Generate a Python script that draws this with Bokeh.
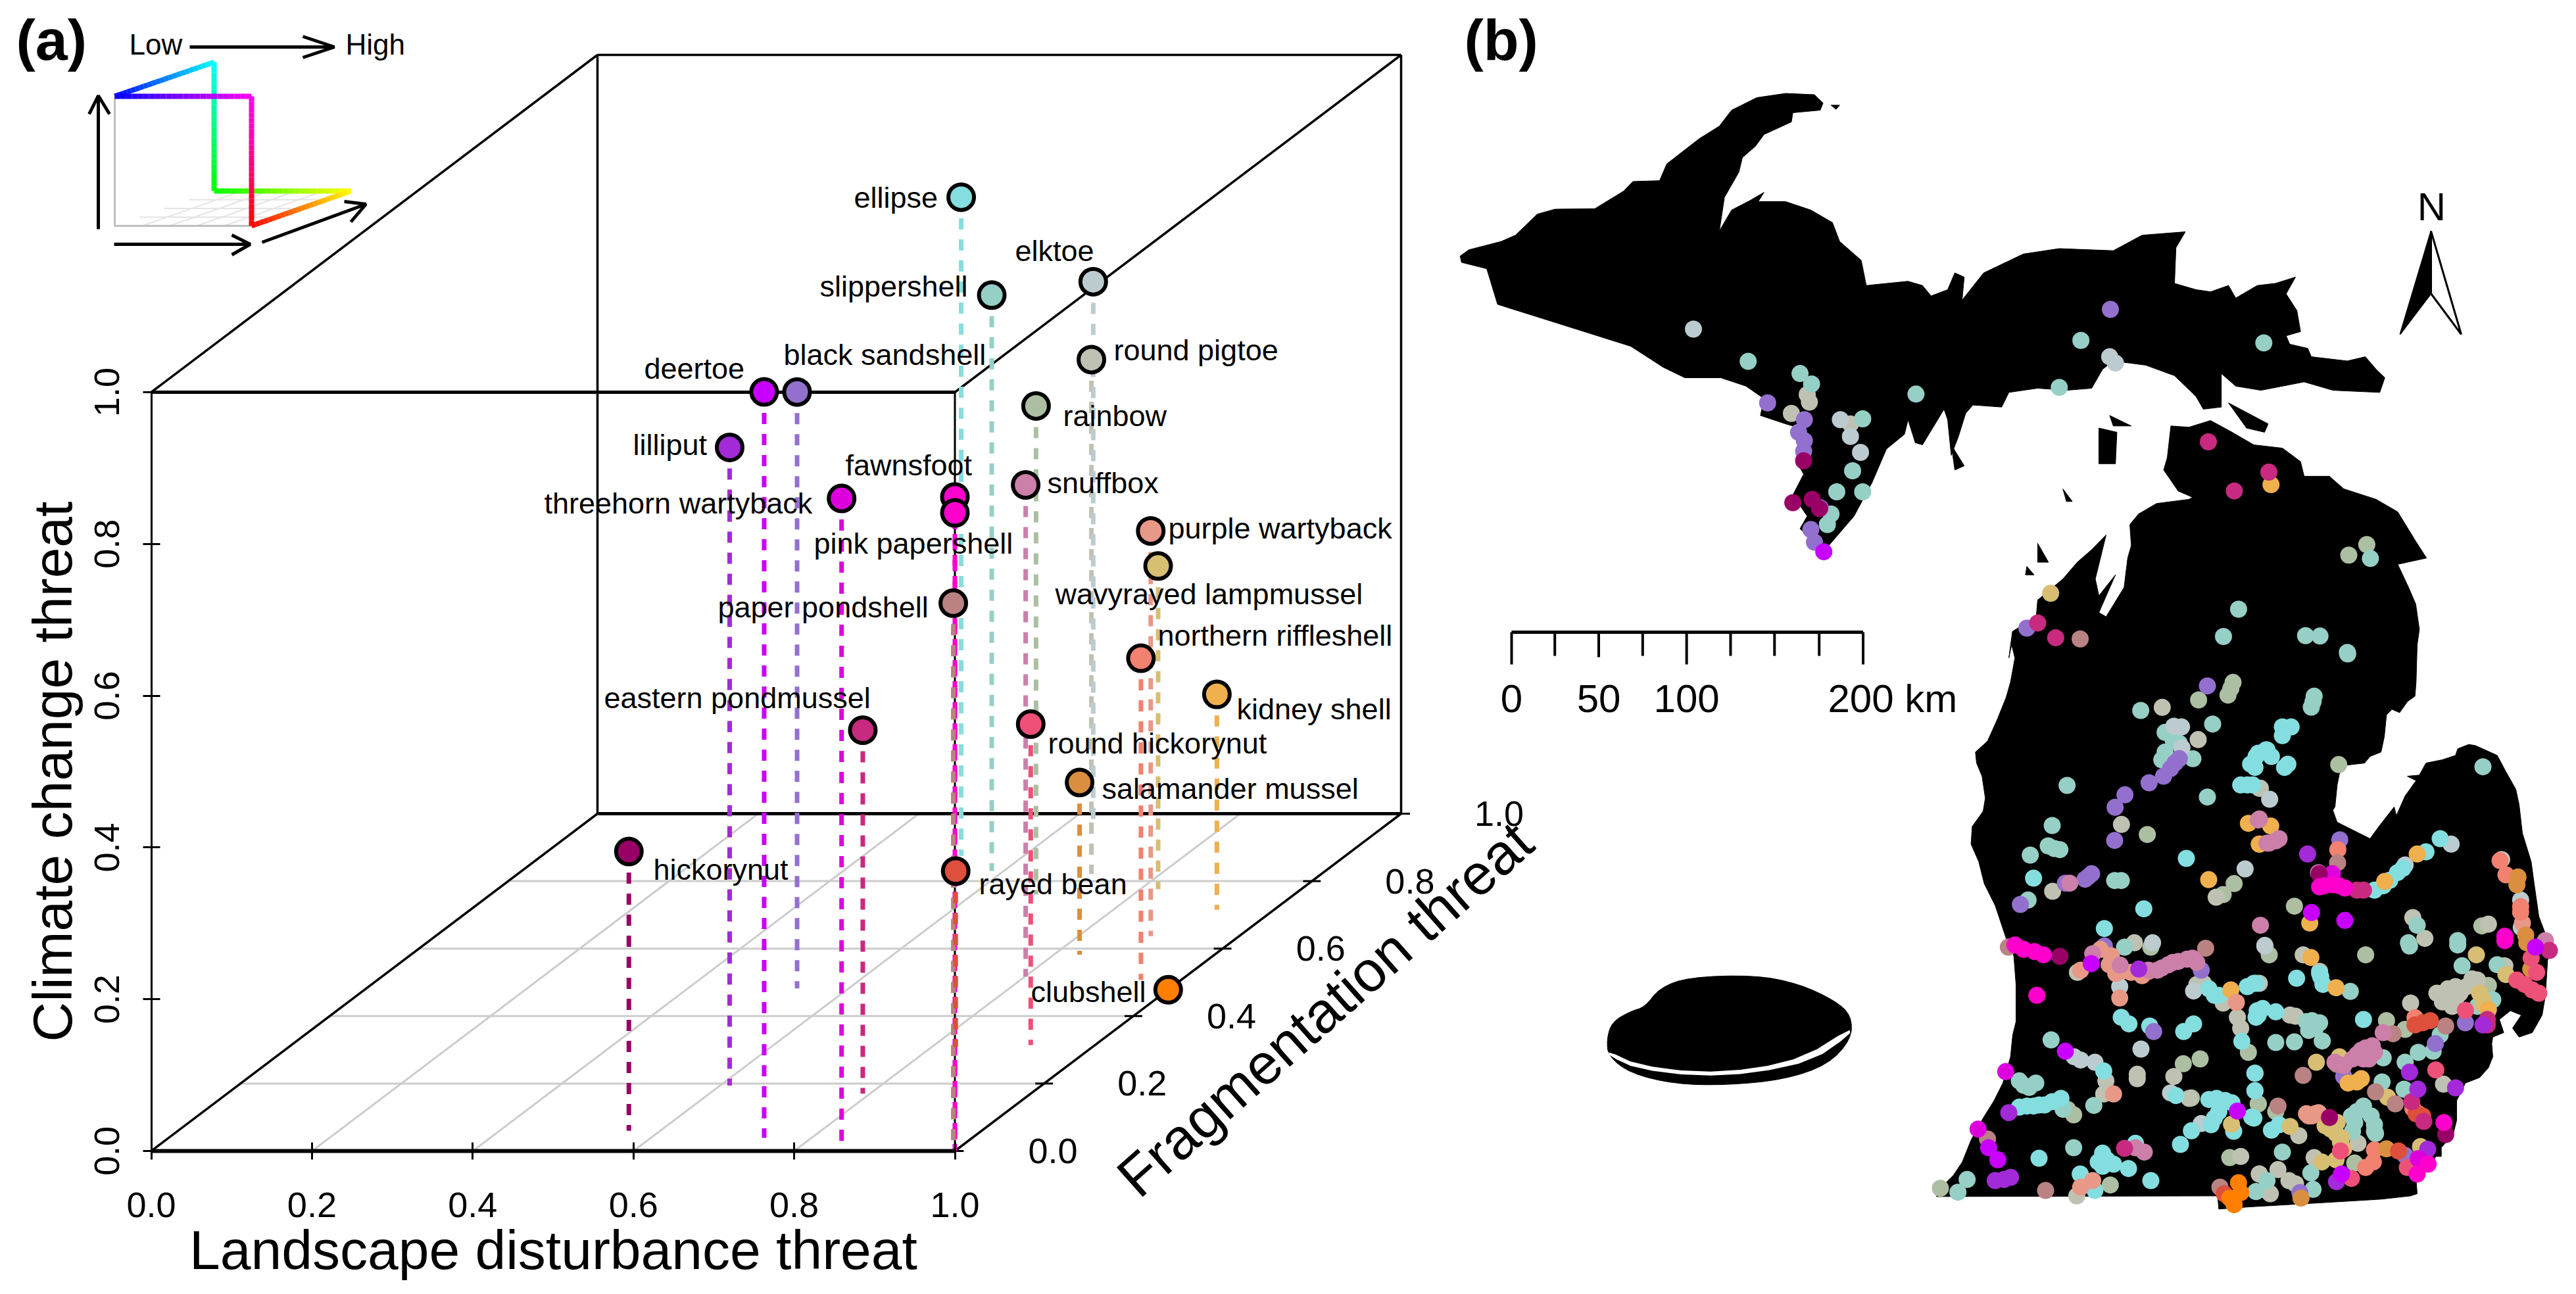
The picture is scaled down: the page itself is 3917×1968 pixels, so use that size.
from bokeh.plotting import figure
from bokeh.embed import file_html
from bokeh.resources import INLINE
from bokeh.core.properties import value
from bokeh.models import Range1d, FixedTicker, NumeralTickFormatter
import math

FONT = "Liberation Sans"

# ---------- panel (a): threat scores per species ----------
species = ["hickorynut","lilliput","deertoe","black sandshell","threehorn wartyback","eastern pondmussel",
           "fawnsfoot","pink papershell","paper pondshell","rayed bean","round hickorynut","snuffbox",
           "rainbow","round pigtoe","elktoe","slippershell","ellipse","northern riffleshell",
           "purple wartyback","wavyrayed lampmussel","kidney shell","salamander mussel","clubshell"]
landscape = [.561,.612,.741,.536,.859,.791,1.0,1.0,.998,.830,.920,.801,.679,.714,.628,.585,.522,.950,.890,.822,.929,.832,1.0]
fragment  = [.060,.194,.039,.482,.0,.170,.0,.0,.0,.308,.314,.517,.760,.821,.980,.830,.875,.507,.637,.776,.715,.582,.478]
climate   = [.368,.841,.983,.786,.860,.479,.862,.841,.722,.232,.423,.648,.644,.678,.710,.759,.868,.424,.534,.426,.284,.227,.0]
colors    = ["#990066","#A32AD8","#C800FF","#9370CE","#DD00DD","#C72A7F","#FF00CC","#FF00CC","#B98383","#DE4F3C",
             "#EE5178","#CC7FA9","#ADBFA2","#BFC2B2","#BCCBCF","#96CFC5","#84DEDF","#F28170","#E89887","#D7BE72",
             "#EFB04D","#D98F3F","#FF7F00"]
label_px_x = [993,962,979,1191,827,918,1285,1237,1091,1488,1593,1592,1616,1693,1543,1246,1298,1760,1776,1604,1880,1675,1567]
label_px_y = [1322,676,560,539,765,1061,707,826,923,1344,1130,734,632,532,381,435,300,966,803,903,1078,1199,1508]
ticks = [0.0,0.2,0.4,0.6,0.8,1.0]
tick_labels = ["0.0","0.2","0.4","0.6","0.8","1.0"]

# ---------- panel (b): occurrence dots, per crop of the map, per species ----------
dots_up = {
 "ek":[(342,784),(920,850),(928,865),(546,1000),(560,1040),(574,1078)],
 "sl":[(418,861),(490,890),(506,915),(651,939),(880,811),(850,923),(1134,817),(577,998),(563,1122),(541,1172),(577,1172),(533,1225),(528,1250),(1282,1331),(1099,1452),(1078,1517),(1192,1515),(1212,1516),(1250,1555)],
 "rp":[(500,940),(503,958),(478,985),(560,1010)],
 "rb":[(1277,1298),(1252,1323)],
 "bs":[(445,960),(496,1000),(488,1030),(496,1050),(495,1075),(921,737),(518,1210),(505,1262),(510,1292),(805,1497)],
 "hk":[(495,1098),(480,1198),(507,1190),(517,1212)],
 "dt":[(523,1315)],
 "ep":[(1057,1053),(1141,1125),(1093,1170),(820,1485),(845,1520)],
 "kd":[(1144,1155)],
 "wv":[(838,1414)],
 "pp":[(879,1523)],
}
dots_a = {
 "sl":[(914,300),(1242,362),(1025,400),(1060,430),(1090,450),(1025,490),(1010,525),(1152,520),(1218,695),(578,642),(510,825),(492,918),(520,930),(545,935),(410,960),(795,1076),(825,1076),(400,1165)],
 "rp":[(1012,286),(1176,433),(1028,515),(826,820),(512,1125),(1258,1152)],
 "rb":[(1178,252),(1335,172),(1312,230),(1325,200),(944,866),(1290,1140),(1340,1090),(1460,655)],
 "bs":[(1218,188),(1090,520),(1070,540),(1050,565),(1018,600),(952,630),(842,685),(797,742),(795,893),(690,1045),(675,1058),(660,1070),(570,1088),(365,1185)],
 "ek":[(1065,372),(1100,375),(1102,470),(1390,1023)],
 "el":[(425,1065),(1122,975),(1400,640),(1370,640),(1415,545),(1440,510),(1490,480),(928,1205),(748,1295)],
 "sn":[(590,1088),(1455,795),(1490,905)],
 "kd":[(1224,1072),(1405,815),(1455,910)],
}
dots_b = {
 "sl":[(448,42),(295,235),(290,260),(282,285),(1065,557),(765,1280),(950,1350),(725,1360)],
 "el":[(150,375),(190,375),(150,415),(175,545),(160,560),(25,560),(40,495),(100,510),(75,480),(15,640),(870,885),(805,945),(675,1040),(640,1075),(700,1020),(570,1120),(610,1100)],
 "rp":[(45,655),(745,1245),(1090,1275),(800,1340)],
 "rb":[(407,547),(205,1193),(1060,1283)],
 "ek":[(92,705),(920,910),(710,1005),(1150,980),(1237,1165),(1240,1290)],
 "kd":[(97,827),(45,910),(765,955),(617,1080),(275,1270)],
 "sn":[(40,800),(120,895),(90,905),(135,885),(315,1040),(50,1280),(1350,1350)],
 "bs":[(412,890)],
 "nr":[(403,935),(1143,985),(1170,1050),(1237,1220),(1237,1195)],
 "pp":[(402,995)],
 "ll":[(265,955)],
 "pk":[(320,1105),(340,1100),(380,1095),(410,1100),(435,1110),(1165,1330)],
 "hk":[(318,1045)],
 "th":[(378,1045)],
 "ep":[(490,1120),(520,1120)],
 "dt":[(283,1222),(435,1258)],
 "sa":[(1220,1095),(1225,1060),(1260,1325)],
 "pw":[(1245,1270)],
}
dots_c = {
 "pk":[(340,20),(380,40),(430,50),(470,65),(440,250)],
 "pp":[(310,30),(1210,35),(1155,85),(215,905),(480,1140),(1275,1125)],
 "hk":[(545,72)],
 "pw":[(640,135),(780,70),(770,110),(800,150),(830,140),(870,145),(920,160),(950,140),(818,262),(790,700),(695,1095),(640,1125),(1350,282),(730,40)],
 "sn":[(695,60),(820,112),(950,135),(990,135),(1010,125),(1060,100),(1085,95),(1125,85),(1040,110),(1150,80),(1170,100),(930,965),(890,945)],
 "dt":[(688,105),(570,505),(1355,778),(262,1000),(220,945)],
 "ll":[(905,130),(312,785),(290,1090),(250,1095),(320,1080)],
 "bs":[(748,25),(1190,135),(973,415)],
 "rp":[(625,145),(885,10),(1200,195),(1170,200),(1290,285),(1355,350),(1370,400),(755,640),(898,610),(898,630),(1065,620),(745,700),(1135,720),(1455,1065),(622,1165),(1370,985),(1500,1150)],
 "ek":[(818,210),(1155,230),(915,495),(640,545),(610,530),(705,555),(1190,835),(1050,695),(968,10),(1480,25)],
 "sl":[(840,30),(505,453),(360,640),(380,660),(405,670),(435,650),(700,752),(608,945),(122,1090),(80,1148),(1440,1145),(560,770)],
 "rb":[(960,30),(1108,562),(1185,540),(1145,718),(608,795),(1320,990),(775,1115),(0,1130),(1450,745),(1405,510),(580,770)],
 "el":[(825,350),(860,380),(955,390),(1110,415),(1155,380),(1225,220),(1250,250),(1270,250),(1400,210),(1430,195),(1375,460),(745,595),(1075,707),(550,720),(510,735),(475,750),(450,750),(425,755),(395,755),(360,760),(1225,725),(1260,720),(1280,730),(1300,730),(1330,740),(1270,780),(1250,810),(1235,840),(1145,868),(1095,930),(1420,805),(1338,870),(1435,605),(1435,685),(1450,320),(1440,350),(740,970),(740,1030),(790,1020),(858,1040),(960,1095),(450,993),(638,1065),(705,1140),(890,925),(720,1010),(760,1000)],
 "wv":[(1328,838)],
 "kd":[(1325,225)],
 "ep":[(840,948)],
 "th":[(298,598),(172,860)],
 "ry":[(1295,1155)],
 "cl":[(1360,1105),(1320,1175),(1340,1205),(1370,1150)],
}
dots_d = {
 "ek":[(70,22)],
 "rb":[(90,65),(530,65),(625,365),(710,405),(480,1015),(1090,205),(40,745),(120,780)],
 "rp":[(245,65),(320,140),(45,195),(735,285),(855,240),(905,220),(940,210),(990,210),(1015,175),(960,240),(940,270),(880,280),(925,300),(1040,180),(495,925),(45,1065),(130,1045),(180,1095),(210,1110),(225,890),(95,1155),(295,990),(885,655),(1165,115),(210,345),(185,340)],
 "kd":[(280,77),(395,215),(1090,315),(450,650),(490,645),(510,630)],
 "el":[(215,172),(320,150),(325,165),(335,200),(520,360),(35,320),(60,310),(40,340),(30,195),(120,325),(25,605),(25,685),(100,865),(135,840),(20,810)],
 "sl":[(460,232),(285,365),(260,370),(300,400),(270,380),(320,375),(270,410),(120,465),(205,462),(332,458),(610,535),(710,555),(605,645),(705,678),(770,510),(838,505),(870,430),(1040,300),(1110,270),(520,755),(490,780),(465,800),(555,800),(570,840),(575,880),(570,870),(470,870),(480,830),(150,965),(30,1145),(290,1135),(280,1060),(80,1095),(730,25),(950,20),(970,115),(1130,110)],
 "wv":[(1035,65),(1170,155),(1050,240),(1065,270),(1065,290),(305,555),(410,530),(630,715),(345,845),(370,860),(400,830),(380,860),(420,900),(395,880),(415,920),(430,950),(330,1010),(395,1000),(185,848),(780,940)],
 "pw":[(260,790),(270,800),(285,800),(300,790),(315,785)],
 "nr":[(755,352),(745,765),(770,790),(570,955),(565,1010),(530,1035)],
 "sn":[(610,420),(390,555),(430,570),(470,540),(490,520),(510,500),(530,490),(560,480),(570,510),(520,540),(545,540)],
 "pp":[(655,425),(400,565),(575,690),(665,745),(895,390),(245,615),(130,755)],
 "ry":[(825,365),(790,375),(755,385),(680,960),(790,800),(760,790)],
 "rh":[(985,318),(1220,180),(1255,200),(1290,225),(1320,240),(1285,80),(850,590),(415,960),(465,1085),(720,1035),(1310,145)],
 "bs":[(985,375),(848,470),(430,620),(710,980),(230,1150)],
 "ll":[(730,600),(768,678),(940,672),(813,952),(397,1100),(1065,385)],
 "ep":[(1085,385),(1085,360),(795,825),(1368,45),(740,735)],
 "hk":[(365,807),(895,885)],
 "pk":[(887,830),(815,1020),(765,1065),(1165,0)],
 "dt":[(420,1065),(1305,30)],
 "th":[(770,995)],
 "sa":[(625,950),(1283,130),(1265,10),(235,1175)],
}
dot_colors = [("rb","#ADBFA2"),("rp","#BFC2B2"),("sl","#96CFC5"),("ek","#BCCBCF"),("el","#84DEDF"),("bs","#9370CE"),
              ("wv","#D7BE72"),("kd","#EFB04D"),("pw","#E89887"),("nr","#F28170"),("pp","#B98383"),("sn","#CC7FA9"),
              ("sa","#D98F3F"),("rh","#EE5178"),("ry","#DE4F3C"),("ep","#C72A7F"),("ll","#A32AD8"),("dt","#C800FF"),
              ("th","#DD00DD"),("hk","#990066"),("pk","#FF00CC"),("cl","#FF7F00")]

# map outlines, traced in the same crop coordinates
up_outline = [(18,610),(30,595),(75,575),(95,560),(125,510),(150,498),(205,497),(245,455),(258,432),(295,430),(305,390),(350,330),(378,300),(395,262),(430,232),(470,222),(510,225),(522,245),(518,262),(480,268),(478,290),(440,320),(428,348),(410,375),(405,410),(385,470),(378,550),(395,500),(420,478),(440,458),(432,480),(470,480),(505,500),(535,530),(545,575),(575,620),(582,680),(640,670),(660,680),(672,705),(695,690),(705,650),(718,660),(715,715),(745,650),(800,605),(850,592),(925,597),(965,560),(1025,552),(1012,590),(1010,675),(1040,690),(1060,695),(1085,680),(1095,710),(1125,680),(1150,675),(1178,660),(1165,700),(1180,740),(1185,790),(1165,800),(1170,820),(1195,830),(1200,850),(1250,860),(1275,850),(1290,880),(1302,900),(1295,935),(1230,930),(1190,910),(1130,930),(1095,920),(1075,890),(1075,970),(1050,975),(1040,945),(1010,895),(970,870),(925,860),(910,880),(895,925),(860,930),(820,925),(780,935),(770,970),(730,965),(720,985),(710,1040),(700,1085),(695,1000),(690,975),(660,1060),(650,1055),(640,1000),(635,1035),(610,1070),(590,1150),(565,1230),(530,1300),(520,1310),(490,1260),(500,1230),(480,1180),(495,1130),(485,1100),(490,1020),(470,1010),(435,990),(440,950),(415,920),(380,900),(330,900),(300,875),(255,825),(70,725),(55,640),(20,625)]
islands = [[(905,1020),(930,1030),(928,1105),(905,1105)],[(1085,960),(1140,1010),(1135,1030),(1110,1020)],
           [(820,1295),(835,1340),(820,1340)],[(805,1350),(815,1370),(803,1370)],[(920,990),(950,1015),(925,1015)],
           [(700,1060),(718,1110),(705,1120)],[(533,250),(545,250),(540,260)],[(855,1165),(868,1195),(860,1195)]]
lp_top_east = [(1005,1015),(1030,1018),(1060,1002),(1090,1030),(1120,1060),(1160,1068),(1185,1100),(1190,1135),(1225,1135),(1245,1165),(1290,1190),(1320,1220),(1345,1290),(1360,1330),(1320,1345),(1335,1400),(1345,1440),(1350,1500)]
lp_b_east = [(765,0),(760,170),(755,235),(720,260),(685,310),(650,295),(625,320),(615,420),(600,490),(550,510),(525,540),(440,550),(410,590),(400,640),(390,740),(380,755),(400,810),(450,835),(550,885),(590,830),(660,740),(670,780),(710,690),(760,620),(720,600),(775,595),(805,540),(880,525),(940,505),(950,475),(1000,455),(1030,460),(1130,505),(1170,580),(1215,660),(1230,730),(1245,860),(1285,990),(1300,1100),(1320,1240),(1350,1320),(1385,1350)]
lp_d_south = [(1360,90),(1350,250),(1335,340),(1290,420),(1230,440),(1200,400),(1240,340),(1190,320),(1140,360),(1160,420),(1110,440),(1105,470),(1110,530),(1090,580),(1050,625),(985,650),(945,730),(945,820),(930,880),(875,945),(875,985),(850,985),(830,1020),(760,1090),(765,1155),(735,1165),(600,1180),(350,1195),(0,1215)]
lp_c_south = [(1270,1225),(1265,1165),(-18,1168),(0,1130),(60,1070),(100,1010),(140,910),(195,810),(245,730),(285,650),(320,530),(330,430),(345,370),(345,200),(335,70)]
lp_a_west = [(300,1340),(250,1190),(200,1090),(175,990),(140,910),(145,830),(195,760),(205,700),(190,600),(165,540),(160,490),(215,440),(260,340),(300,240),(320,170),(340,60),(325,0)]
lp_top_west = [(780,1568),(785,1505),(818,1470),(820,1430),(855,1380),(875,1340),(895,1310),(915,1275),(900,1380),(905,1420),(928,1370),(905,1460),(915,1470),(940,1400),(945,1330),(950,1300),(948,1250),(960,1225),(985,1200),(1030,1190),(1035,1185),(1015,1170),(995,1120),(1000,1090)]
lake_outer = [(218,970),(225,930),(250,905),(270,895),(290,850),(330,825),(420,820),(480,840),(530,880),(552,915),(552,970),(520,1030),(460,1065),(380,1078),(310,1075),(250,1050),(220,1010)]
lake_band = [(220,998),(260,1030),(340,1048),(420,1040),(490,1010),(550,945),(550,960),(500,1020),(420,1050),(340,1057),(260,1040),(222,1010)]
scale_ticks = [88,147,207,267,327,387,447,508,568]

# ---------- figure: the frame fills the canvas; panel (a) uses threat units, the rest page pixels ----------
PX0, PX1, PY1, PY0 = 0, 3901, 1952, 0
UX, UZ, X0, Z0 = 1222.0, 1154.0, 229.5, 1750.0
DX, DZ = 678.5/UX, 513.0/UZ

p = figure(width=PX1-PX0, height=PY1-PY0, output_backend="svg", toolbar_location=None,
           x_range=Range1d((PX0-X0)/UX, (PX1-X0)/UX), y_range=Range1d((Z0-PY1)/UZ, (Z0-PY0)/UZ),
           min_border=0, min_border_left=0, min_border_right=0, min_border_top=0, min_border_bottom=0,
           outline_line_color=None, background_fill_color="white", border_fill_color="white")
p.grid.visible = False
p.extra_x_ranges["px"] = Range1d(PX0, PX1)
p.extra_y_ranges["px"] = Range1d(PY1, PY0)
PXR = dict(x_range_name="px", y_range_name="px")

def proj(x, y, z):
    return x + y*DX, z + y*DZ

def seg3(a, b):
    ax, ay = proj(*a); bx, by = proj(*b)
    return [ax, bx], [ay, by]

for ax, label in ((p.xaxis[0], "Landscape disturbance threat"), (p.yaxis[0], "Climate change threat")):
    ax.fixed_location = 0
    ax.bounds = (0, 1)
    ax.ticker = FixedTicker(ticks=ticks)
    ax.formatter = NumeralTickFormatter(format="0.0")
    ax.axis_line_color = "black"
    ax.major_tick_line_color = "black"
    ax.major_tick_line_width = 3
    ax.major_tick_out = 13
    ax.major_tick_in = 13
    ax.minor_tick_line_color = None
    ax.major_label_text_font = FONT
    ax.major_label_text_font_size = "54px"
    ax.major_label_text_color = "black"
    ax.axis_label = label
    ax.axis_label_text_font = FONT
    ax.axis_label_text_font_size = "84px"
    ax.axis_label_text_font_style = "normal"
    ax.axis_label_text_color = "black"
p.xaxis[0].axis_line_width = 6
p.yaxis[0].axis_line_width = 3
p.xaxis[0].major_label_standoff = 50
p.xaxis[0].axis_label_standoff = 0
p.yaxis[0].major_label_standoff = 36
p.yaxis[0].axis_label_standoff = 15
p.yaxis[0].major_label_orientation = "vertical"

# floor grid
gx, gy = [], []
for t in ticks[1:-1]:
    a, b = seg3((t, 0, 0), (t, 1, 0)); gx.append(a); gy.append(b)
    a, b = seg3((0, t, 0), (1, t, 0)); gx.append(a); gy.append(b)
p.multi_line(gx, gy, line_color="#CCCCCC", line_width=3)

# box
for a, b, w in [((0,0,1),(1,0,1),5), ((1,0,0),(1,0,1),3), ((0,1,0),(1,1,0),5), ((1,1,0),(1,1,1),3.5),
                ((1,1,1),(0,1,1),3.5), ((0,1,1),(0,1,0),3.5), ((0,0,1),(0,1,1),3.5), ((1,0,1),(1,1,1),3.5),
                ((0,0,0),(0,1,0),3.5), ((1,0,0),(1,1,0),3.5)]:
    xs, ys = seg3(a, b)
    p.line(xs, ys, line_color="black", line_width=w)

# fragmentation axis
for t, lab in zip(ticks, tick_labels):
    sx, sz = proj(1, t, 0)
    p.line([sx-0.011, sx+0.011], [sz, sz], line_color="black", line_width=3)
    p.text([sx+0.122], [sz], text=[lab], text_font=value(FONT), text_font_size="54px",
           text_align="center", text_baseline="middle", text_color="black")
p.text([2014], [1534], text=["Fragmentation threat"], angle=math.radians(41.5), text_font=value(FONT),
       text_font_size="87px", text_align="center", text_baseline="middle", text_color="black", **PXR)

# drop lines
for l, f, c, col in zip(landscape, fragment, climate, colors):
    xs, ys = seg3((l, f, c), (l, f, 0))
    p.line(xs, ys, line_color=col, line_width=7, line_dash="17 15")

# labels, points
p.text(label_px_x, label_px_y, text=species, text_font=value(FONT), text_font_size="45px",
       text_align="left", text_baseline="middle", text_color="black", **PXR)
sx = [proj(l, f, c)[0] for l, f, c in zip(landscape, fragment, climate)]
sy = [proj(l, f, c)[1] for l, f, c in zip(landscape, fragment, climate)]
p.scatter(sx, sy, size=39, fill_color=colors, line_color="black", line_width=6)

# panel letters
p.text([24], [60], text=["(a)"], text_font=value(FONT), text_font_style="bold", text_font_size="88px",
       text_baseline="middle", text_color="black", **PXR)
p.text([2226], [60], text=["(b)"], text_font=value(FONT), text_font_style="bold", text_font_size="88px",
       text_baseline="middle", text_color="black", **PXR)

# colour key inset
def hexmix(c1, c2, t):
    return "#%02X%02X%02X" % tuple(int(round(a+(b-a)*t)) for a, b in zip(c1, c2))
key_nodes = [((174,146),(0,0,255)), ((325,94),(0,255,255)), ((325,290),(0,255,0)), ((533,290),(255,255,0)),
             ((382,343),(255,0,0)), ((382,146),(255,0,255)), ((174,146),(0,0,255))]
kx, ky, kc = [], [], []
for (p0, c0), (p1, c1) in zip(key_nodes[:-1], key_nodes[1:]):
    n = 24
    for i in range(n):
        t0, t1 = i/n, (i+1)/n
        kx.append([p0[0]+(p1[0]-p0[0])*t0, p0[0]+(p1[0]-p0[0])*t1])
        ky.append([p0[1]+(p1[1]-p0[1])*t0, p0[1]+(p1[1]-p0[1])*t1])
        kc.append(hexmix(c0, c1, (t0+t1)/2))
flo_x, flo_y = [], []
for i in range(1, 5):
    t = i/5
    flo_x.append([174+208*t, 325+208*t]); flo_y.append([343, 290])
for i in range(1, 4):
    t = i/4
    flo_x.append([174+151*t, 382+151*t]); flo_y.append([343-53*t, 343-53*t])
p.multi_line(flo_x, flo_y, line_color="#E4E4E4", line_width=2, **PXR)
p.multi_line([[174,174,382]], [[146,343,343]], line_color="#BFBFBF", line_width=3, **PXR)
p.multi_line(kx, ky, line_color=kc, line_width=8, **PXR)
arrows_x = [[288,508],[460,508,460],[149,149],[135,149,166],[173,380],[352,380,352],[398,556],[523,556,533]]
arrows_y = [[71,71],[55,71,87],[348,145],[173,145,173],[371,371],[357,371,387],[368,310],[306,310,337]]
p.multi_line(arrows_x, arrows_y, line_color="black", line_width=5, **PXR)
p.text([196, 525], [67, 67], text=["Low", "High"], text_font=value(FONT), text_font_size="44px",
       text_baseline="middle", text_color="black", **PXR)

# map: every outline is converted from its crop to page pixels
def z2(pts):
    return [(2200+a/0.9132, b/1.568) for a, b in pts]
def z3(pts):
    return [(2200+a/0.898, 950+b/1.54) for a, b in pts]
def c3(pts, ox, oy):
    return [(ox+a/3.0, oy+b/3.0) for a, b in pts]
def smooth(pts, rounds=2):
    for _ in range(rounds):
        out = []
        for a, b in zip(pts, pts[1:]+pts[:1]):
            out += [(.75*a[0]+.25*b[0], .75*a[1]+.25*b[1]), (.25*a[0]+.75*b[0], .25*a[1]+.75*b[1])]
        pts = out
    return pts

lp = (z2(lp_top_east) + c3(lp_b_east, 3420, 980) + c3(lp_d_south, 3420, 1430) + c3(lp_c_south, 2950, 1430)
      + c3(lp_a_west, 2950, 980) + z2(lp_top_west))
land = [z2(up_outline), lp, smooth(z3(lake_outer))] + [z2(i) for i in islands]
p.patches([[q[0] for q in r] for r in land], [[q[1] for q in r] for r in land],
          fill_color="black", line_color="black", line_width=1, **PXR)
band = smooth(z3(lake_band), 1)
p.patch([q[0] for q in band], [q[1] for q in band], fill_color="white", line_color=None, **PXR)

merged = {}
for src, fn in ((dots_up, z2), (dots_a, lambda d: c3(d, 2950, 980)), (dots_b, lambda d: c3(d, 3420, 980)),
                (dots_c, lambda d: c3(d, 2950, 1430)), (dots_d, lambda d: c3(d, 3420, 1430))):
    for key, pts in src.items():
        merged.setdefault(key, []).extend(fn(pts))
for key, col in dot_colors:
    pts = merged.get(key, [])
    p.scatter([q[0] for q in pts], [q[1] for q in pts], size=26, fill_color=col, line_color=None, **PXR)

# scale bar
sb_x = [2200+v/0.898 for v in scale_ticks]
p.line([sb_x[0], sb_x[-1]], [961, 961], line_color="black", line_width=5, **PXR)
p.segment(sb_x, [961]*9, sb_x, [1010,997,999,997,1010,997,997,997,1010], line_color="black", line_width=4, **PXR)
p.text([sb_x[0], sb_x[2], sb_x[4]], [1062]*3, text=["0","50","100"], text_font=value(FONT), text_font_size="60px",
       text_align="center", text_baseline="middle", text_color="black", **PXR)
p.text([2779], [1062], text=["200 km"], text_font=value(FONT), text_font_size="60px",
       text_align="left", text_baseline="middle", text_color="black", **PXR)

# north arrow
p.patch([3696,3649,3696], [351,508,446], fill_color="black", line_color="black", line_width=2, **PXR)
p.patch([3696,3742,3696], [351,508,446], fill_color="white", line_color="black", line_width=3, **PXR)
p.text([3697], [314], text=["N"], text_font=value(FONT), text_font_size="60px",
       text_align="center", text_baseline="middle", text_color="black", **PXR)

open("out.html", "w").write(file_html(p, INLINE))
